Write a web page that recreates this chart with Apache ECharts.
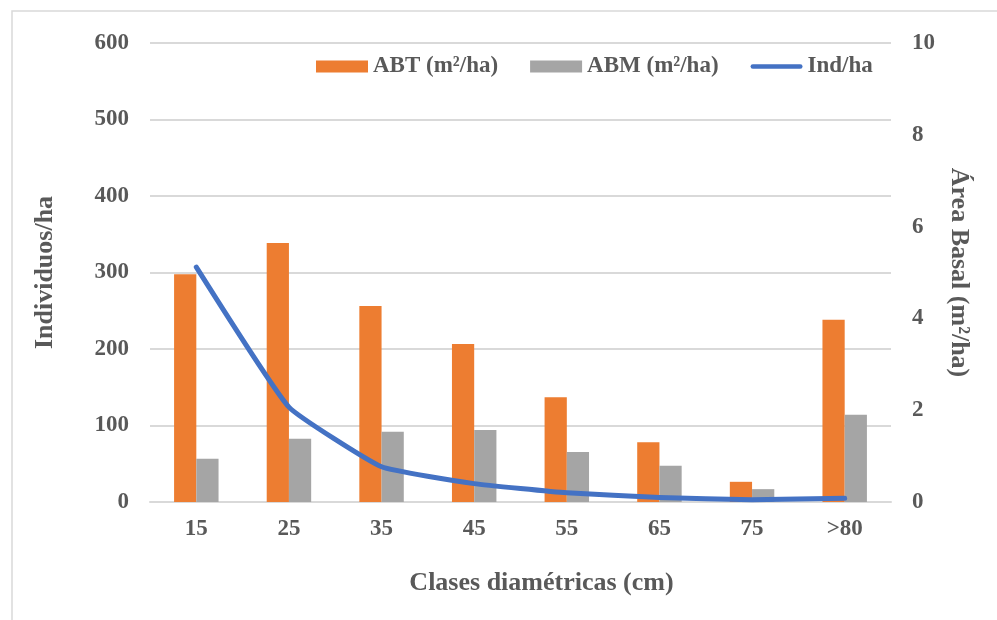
<!DOCTYPE html>
<html>
<head>
<meta charset="utf-8">
<script src="https://cdn.jsdelivr.net/npm/echarts@6/dist/echarts.min.js"></script>
<style>
  html,body{margin:0;padding:0;background:#fff;}
  #main{width:997px;height:620px;}
</style>
</head>
<body>
<div id="main"></div>
<script>
var categories=['15','25','35','45','55','65','75','>80'];
var abt=[4.96,5.64,4.27,3.44,2.28,1.30,0.44,3.97];
var abm=[0.94,1.38,1.53,1.57,1.09,0.79,0.28,1.90];
var indHa=[307,124,46,24,12,6,3,5];
var leftTicks=[0,100,200,300,400,500,600];
var rightTicks=[0,2,4,6,8,10];

var txt='#595959';
var font='"Liberation Serif", "Times New Roman", serif';

var chart=echarts.init(document.getElementById('main'));

var option={
  backgroundColor:'#fff',
  animation:false,
  textStyle:{fontFamily:font,fontWeight:'bold',color:txt},
  graphic:[{
    type:'rect',
    shape:{x:12,y:11,width:1000,height:640},
    style:{fill:'none',stroke:'#d9d9d9',lineWidth:1.5},
    silent:true
  }],
  legend:{
    left:311,
    top:50,
    itemWidth:52,
    itemHeight:12,
    itemGap:32,
    textStyle:{fontFamily:font,fontWeight:'bold',color:txt,fontSize:23},
    data:[
      {name:'ABT (m²/ha)',icon:'rect'},
      {name:'ABM (m²/ha)',icon:'rect'},
      {name:'Ind/ha',icon:'path://M2,0 L54,0 A2.5,2.5 0 0 1 54,5 L2,5 A2.5,2.5 0 0 1 2,0 Z'}
    ]
  },
  grid:{left:150,right:106,top:43,bottom:118},
  xAxis:{
    type:'category',
    data:categories,
    axisTick:{show:false},
    axisLine:{lineStyle:{color:'#d9d9d9',width:2}},
    axisLabel:{fontFamily:font,fontWeight:'bold',color:txt,fontSize:23,margin:16},
    name:'Clases diamétricas (cm)',
    nameLocation:'middle',
    nameGap:68,
    nameTextStyle:{fontFamily:font,fontWeight:'bold',color:txt,fontSize:26,padding:[0,0,0,42]}
  },
  yAxis:[{
    type:'value',
    min:leftTicks[0],
    max:leftTicks[leftTicks.length-1],
    interval:100,
    axisLine:{show:false},
    axisTick:{show:false},
    splitLine:{lineStyle:{color:'#d9d9d9',width:2}},
    axisLabel:{fontFamily:font,fontWeight:'bold',color:txt,fontSize:23,margin:21},
    name:'Individuos/ha',
    nameLocation:'middle',
    nameRotate:90,
    nameGap:92,
    nameTextStyle:{fontFamily:font,fontWeight:'bold',color:txt,fontSize:26}
  },{
    type:'value',
    min:rightTicks[0],
    max:rightTicks[rightTicks.length-1],
    interval:2,
    position:'right',
    axisLine:{show:false},
    axisTick:{show:false},
    splitLine:{show:false},
    axisLabel:{fontFamily:font,fontWeight:'bold',color:txt,fontSize:23,margin:21},
    name:'Área Basal (m²/ha)',
    nameLocation:'middle',
    nameRotate:-90,
    nameGap:53,
    nameTextStyle:{fontFamily:font,fontWeight:'bold',color:txt,fontSize:26}
  }],
  series:[{
    name:'ABT (m²/ha)',
    type:'bar',
    yAxisIndex:1,
    data:abt,
    barGap:'0%',
    barCategoryGap:'52%',
    itemStyle:{color:'#ED7D31'}
  },{
    name:'ABM (m²/ha)',
    type:'bar',
    yAxisIndex:1,
    data:abm,
    itemStyle:{color:'#A5A5A5'}
  },{
    name:'Ind/ha',
    type:'line',
    yAxisIndex:0,
    data:indHa,
    smooth:0.12,
    symbol:'none',
    z:5,
    lineStyle:{color:'#4472C4',width:5,cap:'round',join:'round'},
    itemStyle:{color:'#4472C4'}
  }]
};

chart.setOption(option);
</script>
</body>
</html>
